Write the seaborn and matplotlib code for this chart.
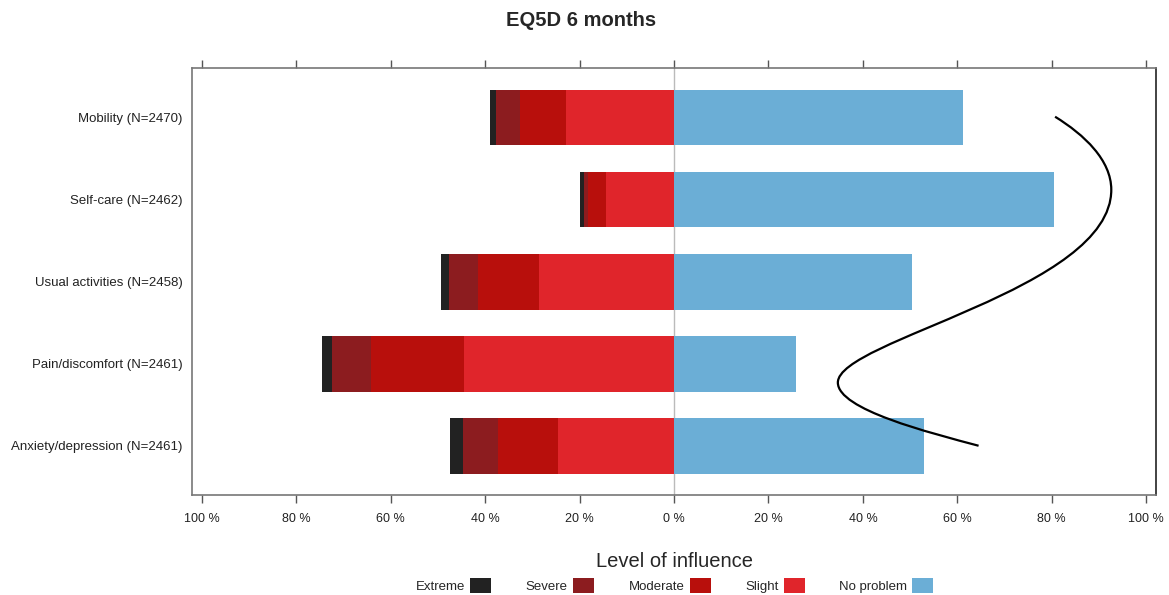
import matplotlib
matplotlib.use("Agg")
import matplotlib.pyplot as plt
from matplotlib.patches import Patch, PathPatch
from matplotlib.path import Path
import numpy as np
import pandas as pd
import seaborn as sns

# data (percent of respondents)
items = ["Mobility (N=2470)", "Self-care (N=2462)", "Usual activities (N=2458)",
         "Pain/discomfort (N=2461)", "Anxiety/depression (N=2461)"]
extreme = [1.3, 0.9, 1.7, 2.0, 2.8]
severe = [4.9, 0.7, 6.2, 8.3, 7.3]
moderate = [9.9, 4.0, 12.8, 19.7, 12.7]
slight = [22.8, 14.3, 28.6, 44.5, 24.6]
no_problem = [61.3, 80.5, 50.5, 25.8, 52.9]

levels = ["Extreme", "Severe", "Moderate", "Slight", "No problem"]
colors = {"Extreme": "#222222", "Severe": "#8c1c1f", "Moderate": "#b80f0c",
          "Slight": "#e0252b", "No problem": "#6baed6"}

# hand drawn s-curve annotation (x in %, y in row units), cubic bezier anchors
curve_pts = [(80.7, -0.01), (86.9, 0.21), (92.6, 0.52), (92.6, 0.88),
             (92.6, 2.10), (34.7, 2.71), (34.7, 3.23),
             (34.7, 3.56), (54.1, 3.84), (64.5, 4.0)]

df = pd.DataFrame({"item": items, "Extreme": extreme, "Severe": severe,
                   "Moderate": moderate, "Slight": slight, "No problem": no_problem})
# negative side is stacked outward from zero: slight, moderate, severe, extreme
df["neg_Extreme"] = -(df["Slight"] + df["Moderate"] + df["Severe"] + df["Extreme"])
df["neg_Severe"] = -(df["Slight"] + df["Moderate"] + df["Severe"])
df["neg_Moderate"] = -(df["Slight"] + df["Moderate"])
df["neg_Slight"] = -df["Slight"]

sns.set_style("white")
plt.rcParams["font.family"] = ["Liberation Sans", "DejaVu Sans"]

fig = plt.figure(figsize=(11.69, 5.95), dpi=100)
ax = fig.add_axes([0.1645, 0.1681, 0.8241, 0.7171])

for lev in ["Extreme", "Severe", "Moderate", "Slight"]:
    sns.barplot(data=df, x="neg_" + lev, y="item", orient="h", color=colors[lev],
                width=0.68, saturation=1, ax=ax, linewidth=0)
sns.barplot(data=df, x="No problem", y="item", orient="h", color=colors["No problem"],
            width=0.68, saturation=1, ax=ax, linewidth=0)

ax.axvline(0, color="#bbbbbb", lw=1, zorder=0.5)

verts = curve_pts
codes = [Path.MOVETO] + [Path.CURVE4] * (len(verts) - 1)
ax.add_patch(PathPatch(Path(verts, codes), facecolor="none", edgecolor="black", lw=1.6, zorder=5))

ax.set_xlim(-102, 102)
ax.set_ylim(4.6, -0.6)
ticks = np.arange(-100, 101, 20)
ax.set_xticks(ticks)
ax.set_xticklabels([f"{abs(t)} %" for t in ticks], fontsize=9, color="#222222")
ax.tick_params(axis="x", which="both", top=True, bottom=True, direction="out",
               length=6, width=1, color="#555555", pad=7)
ax.tick_params(axis="y", length=0, pad=7, labelsize=9.5, labelcolor="#222222")
ax.set_xlabel("")
ax.set_ylabel("")
for side in ["left", "top", "bottom"]:
    ax.spines[side].set_color("#777777")
    ax.spines[side].set_linewidth(1.2)
ax.spines["right"].set_color("#222222")
ax.spines["right"].set_linewidth(1.2)

fig.suptitle("EQ5D 6 months", fontsize=14.5, fontweight="bold", x=0.497, y=0.982)

handles = [Patch(facecolor=colors[l], edgecolor="none", label=l) for l in levels]
leg = fig.legend(handles=handles, loc="lower center", bbox_to_anchor=(0.577, -0.017),
                 ncol=5, frameon=False, markerfirst=False, fontsize=9.5,
                 title="Level of influence", title_fontsize=14.5,
                 handlelength=1.6, handleheight=1.4, columnspacing=2.6, handletextpad=0.4)

fig.savefig("out.png", dpi=100, facecolor="white")
